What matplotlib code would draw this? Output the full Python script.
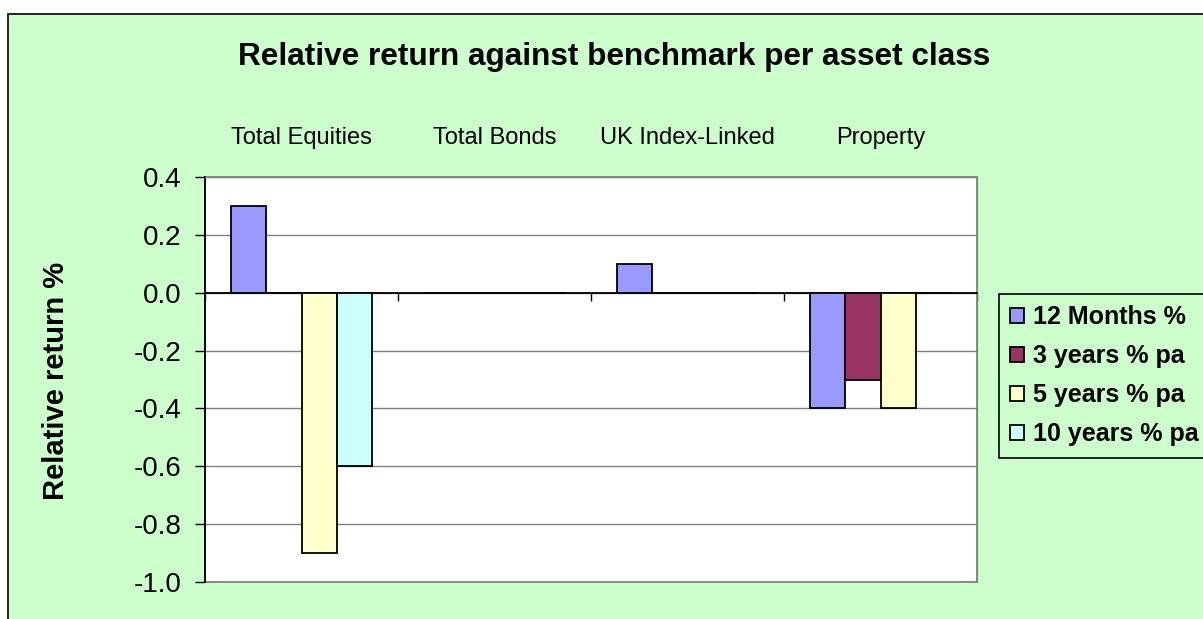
import numpy as np
import matplotlib.pyplot as plt
from matplotlib.patches import Rectangle

categories = ['Total Equities', 'Total Bonds', 'UK Index-Linked', 'Property']
series_names = ['12 Months %', '3 years % pa', '5 years % pa', '10 years % pa']
months_12 = [0.3, 0.0, 0.1, -0.4]
years_3 = [0.0, 0.0, 0.0, -0.3]
years_5 = [-0.9, 0.0, 0.0, -0.4]
years_10 = [-0.6, 0.0, 0.0, 0.0]
colors = ['#9999FF', '#993366', '#FFFFCC', '#CCFFFF']
yticks = [0.4, 0.2, 0.0, -0.2, -0.4, -0.6, -0.8, -1.0]

plt.rcParams['font.family'] = ['Liberation Sans', 'DejaVu Sans']
bg = '#CCFFCC'

fig = plt.figure(figsize=(12.03, 6.19), dpi=100)
fig.patch.set_facecolor('white')
W, H = 1203, 619
# outer chart area (extends past the image on the right and bottom)
fig.patches.append(Rectangle((8 / W, -0.05), 1.1, 1 - 14 / H + 0.05,
                             transform=fig.transFigure, facecolor=bg,
                             edgecolor='black', linewidth=1.2, zorder=-10))

ax = fig.add_axes([205 / W, 1 - 582 / H, (977 - 205) / W, (582 - 177) / H])
ax.set_facecolor('white')

x = np.arange(len(categories))
w = 1 / 5.5
all_series = [months_12, years_3, years_5, years_10]
for i, (vals, name, c) in enumerate(zip(all_series, series_names, colors)):
    ax.bar(x + (i - 1.5) * w, vals, w, color=c, edgecolor='black',
           linewidth=1.3, label=name, zorder=3)

ax.set_xlim(-0.5, 3.5)
ax.set_ylim(-1.0, 0.4)
ax.set_yticks(yticks)
ax.set_yticklabels([f'{v:.1f}' for v in yticks])
ax.yaxis.grid(True, color='#808080', linewidth=1, zorder=0)
ax.set_axisbelow(True)

# category labels on top, boundary ticks on the zero line
ax.set_xticks(x)
ax.set_xticklabels(categories)
ax.set_xticks(np.arange(-0.5, 4, 1), minor=True)
ax.tick_params(axis='x', which='major', bottom=False, top=False,
               labelbottom=False, labeltop=True, pad=16.5, labelsize=17)
ax.tick_params(axis='x', which='minor', bottom=True, top=False,
               direction='out', length=6, width=1, color='black')
ax.tick_params(axis='y', direction='out', length=7, width=1, pad=10,
               labelsize=20)

ax.spines['bottom'].set_position(('data', 0))
ax.spines['bottom'].set_color('black')
ax.spines['bottom'].set_linewidth(1.3)
ax.spines['left'].set_linewidth(1.3)
ax.spines['top'].set_color('#808080')
ax.spines['right'].set_color('#808080')
ax.add_patch(Rectangle((0, 0), 1, 1, transform=ax.transAxes, fill=False,
                       edgecolor='#808080', linewidth=1.3, zorder=1,
                       clip_on=False))

fig.text(614 / W, 1 - 57 / H, 'Relative return against benchmark per asset class',
         ha='center', va='center', fontsize=22.7, fontweight='bold')
fig.text(56 / W, 1 - 381 / H, 'Relative return %', rotation=90,
         ha='center', va='center', fontsize=21, fontweight='bold')

leg = ax.legend(loc='upper left', bbox_to_anchor=(999 / W, 1 - 294 / H),
                bbox_transform=fig.transFigure,
                prop={'weight': 'bold', 'size': 18}, frameon=True,
                fancybox=False, edgecolor='black', facecolor=bg, framealpha=1,
                handlelength=0.55, handleheight=0.55, handletextpad=0.35,
                labelspacing=0.6, borderpad=0.45, borderaxespad=0)
leg.get_frame().set_linewidth(1.2)

fig.savefig('out.png', dpi=100)
